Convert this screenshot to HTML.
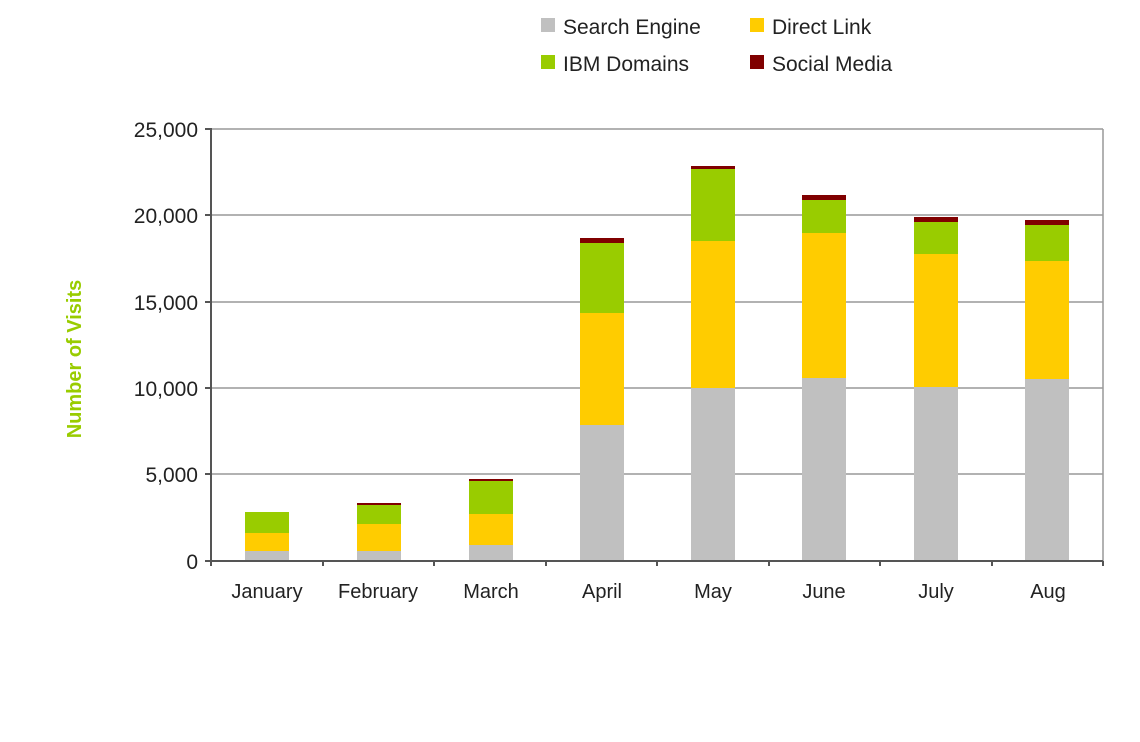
<!DOCTYPE html>
<html><head><meta charset="utf-8"><style>body{margin:0;background:#fff}svg{display:block;font-family:"Liberation Sans",sans-serif}</style></head><body>
<svg width="1140" height="742" xmlns="http://www.w3.org/2000/svg">
<g stroke="#999" stroke-width="1.5">
<line x1="211" y1="129" x2="1103" y2="129"/><line x1="211" y1="215" x2="1103" y2="215"/><line x1="211" y1="302" x2="1103" y2="302"/><line x1="211" y1="388" x2="1103" y2="388"/><line x1="211" y1="474" x2="1103" y2="474"/>
<line x1="1103" y1="129" x2="1103" y2="561"/>
</g>
<g id="bars">
<rect x="245" y="551" width="44" height="10" fill="#c0c0c0"/><rect x="245" y="533" width="44" height="18" fill="#ffcc00"/><rect x="245" y="512" width="44" height="21" fill="#99cc00"/>
<rect x="357" y="551" width="44" height="10" fill="#c0c0c0"/><rect x="357" y="524" width="44" height="27" fill="#ffcc00"/><rect x="357" y="505" width="44" height="19" fill="#99cc00"/><rect x="357" y="503" width="44" height="2" fill="#800000"/>
<rect x="469" y="545" width="44" height="16" fill="#c0c0c0"/><rect x="469" y="514" width="44" height="31" fill="#ffcc00"/><rect x="469" y="481" width="44" height="33" fill="#99cc00"/><rect x="469" y="479" width="44" height="2" fill="#800000"/>
<rect x="580" y="425" width="44" height="136" fill="#c0c0c0"/><rect x="580" y="313" width="44" height="112" fill="#ffcc00"/><rect x="580" y="243" width="44" height="70" fill="#99cc00"/><rect x="580" y="238" width="44" height="5" fill="#800000"/>
<rect x="691" y="388" width="44" height="173" fill="#c0c0c0"/><rect x="691" y="241" width="44" height="147" fill="#ffcc00"/><rect x="691" y="169" width="44" height="72" fill="#99cc00"/><rect x="691" y="166" width="44" height="3" fill="#800000"/>
<rect x="802" y="378" width="44" height="183" fill="#c0c0c0"/><rect x="802" y="233" width="44" height="145" fill="#ffcc00"/><rect x="802" y="200" width="44" height="33" fill="#99cc00"/><rect x="802" y="195" width="44" height="5" fill="#800000"/>
<rect x="914" y="387" width="44" height="174" fill="#c0c0c0"/><rect x="914" y="254" width="44" height="133" fill="#ffcc00"/><rect x="914" y="222" width="44" height="32" fill="#99cc00"/><rect x="914" y="217" width="44" height="5" fill="#800000"/>
<rect x="1025" y="379" width="44" height="182" fill="#c0c0c0"/><rect x="1025" y="261" width="44" height="118" fill="#ffcc00"/><rect x="1025" y="225" width="44" height="36" fill="#99cc00"/><rect x="1025" y="220" width="44" height="5" fill="#800000"/>
</g>
<g stroke="#555" stroke-width="2">
<line x1="211" y1="128" x2="211" y2="566"/><line x1="205" y1="561" x2="1103" y2="561"/>
<line x1="205" y1="129" x2="211" y2="129"/><line x1="205" y1="215" x2="211" y2="215"/><line x1="205" y1="302" x2="211" y2="302"/><line x1="205" y1="388" x2="211" y2="388"/><line x1="205" y1="474" x2="211" y2="474"/>
<line x1="323" y1="561" x2="323" y2="566"/><line x1="434" y1="561" x2="434" y2="566"/><line x1="546" y1="561" x2="546" y2="566"/><line x1="657" y1="561" x2="657" y2="566"/><line x1="769" y1="561" x2="769" y2="566"/><line x1="880" y1="561" x2="880" y2="566"/><line x1="992" y1="561" x2="992" y2="566"/><line x1="1103" y1="561" x2="1103" y2="566"/>
</g>
<g font-size="21" fill="#222" text-anchor="end">
<text x="198" y="137">25,000</text><text x="198" y="223">20,000</text><text x="198" y="310">15,000</text><text x="198" y="396">10,000</text><text x="198" y="482">5,000</text><text x="198" y="569">0</text>
</g>
<g font-size="20" fill="#222" text-anchor="middle">
<text x="267" y="598">January</text><text x="378" y="598">February</text><text x="491" y="598">March</text><text x="602" y="598">April</text><text x="713" y="598">May</text><text x="824" y="598">June</text><text x="936" y="598">July</text><text x="1048" y="598">Aug</text>
</g>
<text transform="translate(81,359) rotate(-90)" text-anchor="middle" font-size="20" font-weight="bold" fill="#99cc00">Number of Visits</text>
<g font-size="21" fill="#222">
<rect x="541" y="18" width="14" height="14" fill="#c0c0c0"/><text x="563" y="34">Search Engine</text>
<rect x="750" y="18" width="14" height="14" fill="#ffcc00"/><text x="772" y="34">Direct Link</text>
<rect x="541" y="55" width="14" height="14" fill="#99cc00"/><text x="563" y="71">IBM Domains</text>
<rect x="750" y="55" width="14" height="14" fill="#800000"/><text x="772" y="71">Social Media</text>
</g>
</svg>
</body></html>
